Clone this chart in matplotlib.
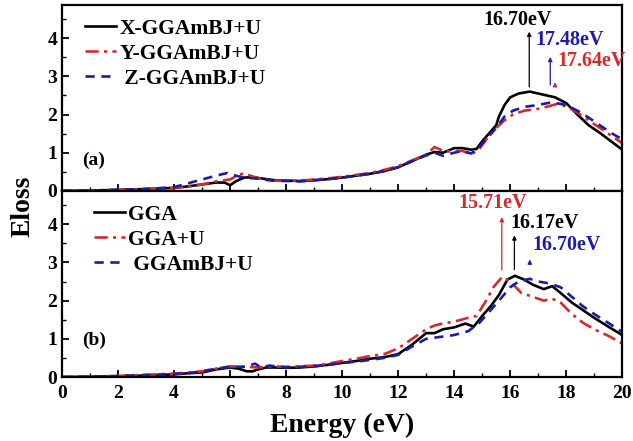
import numpy as np
import matplotlib
matplotlib.use('Agg')
import matplotlib.pyplot as plt
from matplotlib.ticker import MultipleLocator

plt.rcParams['font.family'] = 'Liberation Serif'
plt.rcParams['font.weight'] = 'bold'

# ---- panel (a): anisotropic components ----
ex_a = [0, 1, 2, 3, 4, 4.5, 5, 5.5, 5.8, 6.0, 6.2, 6.5, 6.8, 7.2, 7.6, 8, 8.5, 9, 9.5,
        10, 10.5, 11, 11.5, 12, 12.5, 13, 13.3, 13.6, 14, 14.3, 14.6, 14.8, 15.0, 15.3,
        15.5, 15.6, 15.8, 16.0, 16.3, 16.7, 17.0, 17.3, 17.6, 18.0, 18.4, 18.8, 19.2, 19.6, 20]
el_a = [0.0, 0.01, 0.03, 0.05, 0.08, 0.12, 0.17, 0.22, 0.22, 0.15, 0.25, 0.35, 0.36, 0.32, 0.28,
        0.27, 0.26, 0.28, 0.31, 0.35, 0.40, 0.45, 0.52, 0.62, 0.78, 0.95, 1.02, 1.0, 1.12, 1.12,
        1.08, 1.1, 1.3, 1.55, 1.72, 1.95, 2.25, 2.45, 2.55, 2.6, 2.55, 2.5, 2.45, 2.3, 2.0, 1.72,
        1.52, 1.3, 1.08]

ey_a = [0, 1, 2, 3, 4, 4.5, 5, 5.5, 6.0, 6.3, 6.5, 6.8, 7.2, 7.6, 8, 8.5, 9, 9.5, 10, 10.5,
        11, 11.5, 12, 12.5, 13, 13.3, 13.6, 14, 14.3, 14.6, 14.9, 15.2, 15.5, 15.8, 16.1, 16.5,
        17, 17.3, 17.64, 18, 18.4, 18.8, 19.2, 19.6, 20]
yl_a = [0.0, 0.01, 0.03, 0.05, 0.08, 0.12, 0.17, 0.25, 0.3, 0.42, 0.46, 0.38, 0.3, 0.27, 0.27,
        0.27, 0.3, 0.33, 0.37, 0.42, 0.47, 0.55, 0.65, 0.8, 0.95, 1.15, 1.05, 1.02, 1.05, 0.95,
        1.1, 1.4, 1.65, 1.85, 2.0, 2.1, 2.15, 2.2, 2.27, 2.22, 2.05, 1.85, 1.65, 1.45, 1.25]

ez_a = [0, 1, 2, 3, 4, 4.5, 5, 5.5, 5.9, 6.2, 6.5, 7, 7.5, 8, 8.5, 9, 9.5, 10, 10.5, 11, 11.5,
        12, 12.5, 13, 13.3, 13.6, 14.0, 14.3, 14.6, 14.9, 15.2, 15.5, 15.8, 16.1, 16.5, 17,
        17.48, 18, 18.4, 18.8, 19.2, 19.6, 20]
zl_a = [0.0, 0.01, 0.03, 0.05, 0.1, 0.2, 0.3, 0.4, 0.47, 0.4, 0.35, 0.32, 0.27, 0.26, 0.25,
        0.28, 0.31, 0.35, 0.4, 0.45, 0.52, 0.62, 0.78, 0.93, 1.0, 0.92, 1.0, 1.05, 0.98, 1.15,
        1.4, 1.65, 1.95, 2.1, 2.2, 2.25, 2.32, 2.25, 2.1, 1.92, 1.72, 1.52, 1.35]

# ---- panel (b): functionals ----
e_gga = [0, 1, 2, 3, 4, 4.5, 5, 5.5, 6, 6.3, 6.6, 6.8, 7.0, 7.3, 7.6, 8, 8.5, 9, 9.5, 10,
         10.5, 11, 11.5, 12, 12.5, 13, 13.3, 13.6, 14, 14.4, 14.7, 15, 15.3, 15.6, 15.9, 16.17,
         16.5, 16.8, 17.2, 17.5, 17.8, 18.2, 18.6, 19, 19.5, 20]
l_gga = [0.0, 0.01, 0.02, 0.04, 0.07, 0.1, 0.12, 0.2, 0.25, 0.22, 0.15, 0.15, 0.2, 0.25, 0.25,
         0.24, 0.25, 0.28, 0.32, 0.37, 0.42, 0.48, 0.52, 0.6, 0.85, 1.15, 1.15, 1.25, 1.3, 1.4,
         1.32, 1.6, 1.85, 2.15, 2.55, 2.65, 2.55, 2.42, 2.3, 2.38, 2.2, 1.95, 1.75, 1.55, 1.32, 1.1]

e_ggau = [0, 1, 2, 3, 4, 4.5, 5, 5.5, 6, 6.5, 7, 7.5, 8, 8.5, 9, 9.5, 10, 10.5, 11, 11.5, 12,
          12.5, 13, 13.3, 13.6, 14, 14.5, 14.8, 15.1, 15.4, 15.71, 16, 16.4, 16.8, 17.2, 17.5,
          17.8, 18.2, 18.6, 19, 19.5, 20]
l_ggau = [0.0, 0.01, 0.03, 0.06, 0.09, 0.12, 0.15, 0.22, 0.28, 0.27, 0.25, 0.28, 0.27, 0.28,
          0.3, 0.35, 0.42, 0.48, 0.55, 0.6, 0.75, 1.0, 1.25, 1.35, 1.4, 1.45, 1.55, 1.6, 1.95,
          2.35, 2.62, 2.5, 2.2, 2.1, 2.0, 2.05, 1.95, 1.65, 1.42, 1.25, 1.08, 0.88]

e_mbj = [0, 1, 2, 3, 4, 4.5, 5, 5.5, 6, 6.5, 6.9, 7.1, 7.4, 8, 8.5, 9, 9.5, 10, 10.5, 11,
         11.5, 12, 12.5, 13, 13.5, 14, 14.5, 14.9, 15.3, 15.6, 16, 16.3, 16.7, 17, 17.4, 17.8,
         18.2, 18.6, 19, 19.5, 20]
l_mbj = [0.0, 0.01, 0.03, 0.05, 0.08, 0.1, 0.15, 0.22, 0.27, 0.27, 0.35, 0.25, 0.3, 0.25, 0.27,
         0.28, 0.32, 0.37, 0.4, 0.45, 0.5, 0.58, 0.8, 1.0, 1.05, 1.1, 1.2, 1.42, 1.75, 2.0, 2.35,
         2.5, 2.57, 2.5, 2.45, 2.35, 2.1, 1.85, 1.65, 1.42, 1.18]

RED = '#d42a2a'
BLUE = '#1c1ca8'
DASHDOT = (0, (5, 2, 1.2, 2))
DASH = (0, (3.5, 2.5))

fig = plt.figure(figsize=(6.33, 4.41), dpi=100)
ax1 = fig.add_axes([0.098, 0.567, 0.885, 0.422])
ax2 = fig.add_axes([0.098, 0.145, 0.885, 0.422])

ax1.plot(ex_a, el_a, color='k', lw=1.9, label='X-GGAmBJ+U')
ax1.plot(ey_a, yl_a, color=RED, lw=1.9, ls=DASHDOT, label='Y-GGAmBJ+U')
ax1.plot(ez_a, zl_a, color=BLUE, lw=1.9, ls=DASH, label=' Z-GGAmBJ+U')

ax2.plot(e_gga, l_gga, color='k', lw=1.9, label='GGA')
ax2.plot(e_ggau, l_ggau, color=RED, lw=1.9, ls=DASHDOT, label='GGA+U')
ax2.plot(e_mbj, l_mbj, color=BLUE, lw=1.9, ls=DASH, label=' GGAmBJ+U')

for ax, lx in ((ax1, 0.016), (ax2, 0.032)):
    ax.set_xlim(0, 20)
    ax.set_ylim(0, 4.87)
    ax.xaxis.set_major_locator(MultipleLocator(2))
    ax.xaxis.set_minor_locator(MultipleLocator(1))
    ax.yaxis.set_major_locator(MultipleLocator(1))
    ax.yaxis.set_minor_locator(MultipleLocator(0.5))
    ax.tick_params(which='both', direction='in', top=False, right=False, labelsize=14)
    ax.tick_params(which='major', length=5, width=1.3)
    ax.tick_params(which='minor', length=3, width=1.0)
    ax.tick_params(axis='x', pad=6)
    for sp in ax.spines.values():
        sp.set_linewidth(1.6)
    ax.legend(loc='upper left', bbox_to_anchor=(lx, 1.0), frameon=False, fontsize=15.5,
              handlelength=1.45, handletextpad=0.15, labelspacing=0.22, borderaxespad=0.25)

ax1.tick_params(labelbottom=False)
ax1.text(0.72, 0.68, '(a)', fontsize=14)
ax2.text(0.72, 0.85, '(b)', fontsize=14)

arrow = dict(arrowstyle='-|>', mutation_scale=6, lw=0.9)

# peak markers, panel (a)
ax1.annotate('', xy=(16.68, 4.24), xytext=(16.68, 2.65), arrowprops=dict(arrow, color='k'))
ax1.annotate('', xy=(17.43, 3.58), xytext=(17.43, 2.7), arrowprops=dict(arrow, color=BLUE))
ax1.annotate('', xy=(17.6, 2.92), xytext=(17.6, 2.66), arrowprops=dict(arrow, color=RED))
ax1.text(16.25, 4.47, '16.70eV', color='k', fontsize=14.5, ha='center', va='center')
ax1.text(16.89, 3.95, '17.48eV', color=BLUE, fontsize=14.5, ha='left', va='center')
ax1.text(17.68, 3.39, '17.64eV', color=RED, fontsize=14.5, ha='left', va='center')

# peak markers, panel (b)
ax2.annotate('', xy=(15.7, 4.26), xytext=(15.7, 2.73), arrowprops=dict(arrow, color=RED))
ax2.annotate('', xy=(16.15, 3.78), xytext=(16.15, 2.74), arrowprops=dict(arrow, color='k'))
ax2.annotate('', xy=(16.7, 3.15), xytext=(16.7, 2.87), arrowprops=dict(arrow, color=BLUE))
ax2.text(15.37, 4.55, '15.71eV', color=RED, fontsize=14.5, ha='center', va='center')
ax2.text(16.0, 4.03, '16.17eV', color='k', fontsize=14.5, ha='left', va='center')
ax2.text(16.79, 3.45, '16.70eV', color=BLUE, fontsize=14.5, ha='left', va='center')

fig.text(0.54, 0.036, 'Energy (eV)', fontsize=20, ha='center', va='center')
fig.text(0.036, 0.533, 'Eloss', fontsize=20, ha='center', va='center', rotation=90)

fig.savefig('out.png', dpi=100)
